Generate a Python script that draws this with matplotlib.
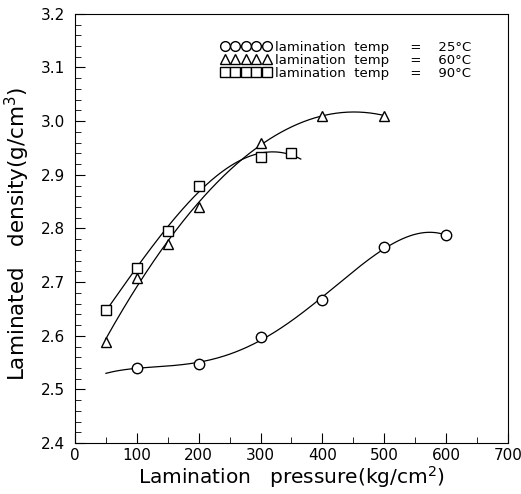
import numpy as np
import matplotlib.pyplot as plt
from matplotlib.ticker import MultipleLocator
from matplotlib.transforms import ScaledTranslation

# lamination temp = 25 C
p_25 = [100, 200, 300, 400, 500, 600]
d_25 = [2.540, 2.548, 2.597, 2.667, 2.765, 2.787]
# lamination temp = 60 C
p_60 = [50, 100, 150, 200, 300, 400, 500]
d_60 = [2.588, 2.707, 2.772, 2.840, 2.960, 3.010, 3.010]
# lamination temp = 90 C
p_90 = [50, 100, 150, 200, 300, 350]
d_90 = [2.648, 2.727, 2.795, 2.880, 2.933, 2.940]

labels = ['lamination  temp     =    25\u00b0C',
          'lamination  temp     =    60\u00b0C',
          'lamination  temp     =    90\u00b0C']

fig = plt.figure(figsize=(5.21, 4.94), dpi=100)
ax = fig.add_axes([0.144, 0.103, 0.831, 0.869])

# (x, y, marker, fit degree, curve range)
series = [(p_25, d_25, 'o', 4, (50, 600)),
          (p_60, d_60, '^', 3, (50, 500)),
          (p_90, d_90, 's', 3, (50, 365))]

for (p, d, m, deg, rng), lab in zip(series, labels):
    coef = np.polyfit(p, d, deg)
    xs = np.linspace(rng[0], rng[1], 300)
    ax.plot(xs, np.polyval(coef, xs), color='black', lw=0.9)
    ax.plot(p, d, m, mfc='white', mec='black', ms=7.5, mew=1.0, label=lab)

ax.set_xlim(0, 700)
ax.set_ylim(2.4, 3.2)
ax.xaxis.set_major_locator(MultipleLocator(100))
ax.xaxis.set_minor_locator(MultipleLocator(50))
ax.yaxis.set_major_locator(MultipleLocator(0.1))
ax.yaxis.set_minor_locator(MultipleLocator(0.02))
ax.yaxis.set_major_formatter(lambda v, pos: '%.1f' % v)
ax.tick_params(which='both', direction='in', labelsize=11)
ax.tick_params(which='major', length=7)
ax.tick_params(which='minor', length=4)
ax.tick_params(axis='y', pad=7)

ax.set_xlabel('Lamination   pressure(kg/cm$^2$)', fontsize=14.5, labelpad=1)
ax.set_ylabel('Laminated   density(g/cm$^3$)', fontsize=15.5)
ax.yaxis.set_label_coords(-0.10, 0.487)

leg = ax.legend(loc='upper right', bbox_to_anchor=(0.93, 0.953), frameon=False,
                numpoints=5, handlelength=3.8, handletextpad=0.3,
                labelspacing=0.0, fontsize=9.5, borderpad=0)
for h in leg.legend_handles:
    h.set_markersize(7)

# last x tick label sits at the figure edge, nudge it in a little
fig.canvas.draw()
last = ax.get_xticklabels()[-1]
last.set_transform(last.get_transform() + ScaledTranslation(-4 / 72, 0, fig.dpi_scale_trans))

fig.savefig('out.png', dpi=100)
